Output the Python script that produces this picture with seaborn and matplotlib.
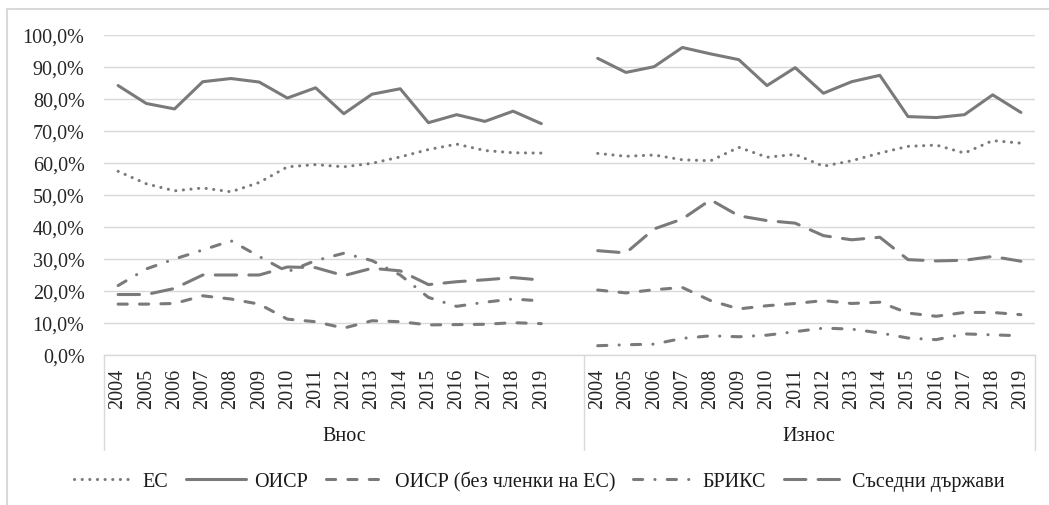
import pandas as pd
import matplotlib.pyplot as plt
import seaborn as sns
from matplotlib.lines import Line2D
from matplotlib.ticker import FuncFormatter

# Data (share, %)
years = list(range(2004, 2020))
groups = ['Внос', 'Износ']
series = ['ЕС', 'ОИСР', 'ОИСР (без членки на ЕС)', 'БРИКС', 'Съседни държави']

eu_imp = [57.4, 53.5, 51.3, 52.2, 51.0, 53.9, 58.8, 59.5, 58.8, 59.9, 61.9, 64.2, 65.9, 63.9, 63.2, 63.1]
oecd_imp = [84.2, 78.6, 76.9, 85.4, 86.4, 85.3, 80.3, 83.5, 75.4, 81.5, 83.2, 72.6, 75.1, 73.0, 76.2, 72.3]
oecd_noeu_imp = [15.9, 15.9, 16.1, 18.5, 17.5, 15.9, 11.2, 10.4, 8.4, 10.7, 10.4, 9.4, 9.5, 9.6, 10.1, 9.8]
brics_imp = [21.7, 26.9, 30.0, 32.8, 35.7, 30.8, 26.0, 29.5, 31.8, 29.5, 25.0, 18.0, 15.2, 16.5, 17.5, 16.9]
neigh_imp = [18.9, 18.9, 20.8, 25.0, 25.0, 25.0, 27.5, 27.3, 24.8, 27.1, 26.3, 22.0, 22.9, 23.5, 24.2, 23.4]

eu_exp = [63.0, 62.1, 62.5, 61.0, 60.7, 64.9, 61.8, 62.7, 59.0, 60.7, 63.1, 65.2, 65.6, 63.1, 67.0, 66.2]
oecd_exp = [92.7, 88.3, 90.1, 96.1, 94.1, 92.3, 84.2, 89.8, 81.8, 85.4, 87.4, 74.5, 74.2, 75.1, 81.3, 75.8]
oecd_noeu_exp = [20.3, 19.4, 20.4, 21.1, 17.0, 14.4, 15.4, 16.1, 17.0, 16.1, 16.5, 13.1, 12.1, 13.3, 13.3, 12.6]
brics_exp = [2.9, 3.2, 3.4, 5.2, 6.0, 5.7, 6.2, 7.3, 8.4, 8.1, 6.9, 5.3, 4.8, 6.6, 6.3, 6.0]
neigh_exp = [32.6, 31.9, 39.4, 42.5, 48.5, 43.5, 42.0, 41.2, 37.3, 36.0, 36.8, 29.8, 29.4, 29.6, 30.8, 29.3]

imports = [eu_imp, oecd_imp, oecd_noeu_imp, brics_imp, neigh_imp]
exports = [eu_exp, oecd_exp, oecd_noeu_exp, brics_exp, neigh_exp]

# long table; one empty category slot between the two groups
rows = []
for g, block in enumerate([imports, exports]):
    for name, vals in zip(series, block):
        for i, (yr, v) in enumerate(zip(years, vals)):
            rows.append({'pos': i + g * 17, 'year': yr, 'value': v,
                         'series': name, 'group': groups[g]})
df = pd.DataFrame(rows)

sns.set_style('white')
plt.rcParams['font.family'] = ['Liberation Serif', 'DejaVu Serif']
plt.rcParams['lines.dash_capstyle'] = 'round'
plt.rcParams['text.color'] = '#1a1a1a'

line_col = '#7a7a7a'
grid_col = '#d9d9d9'
fs = 14.5

fig = plt.figure(figsize=(10.49, 5.06), dpi=100)
ax = fig.add_axes([104 / 1049, 1 - 356 / 506, 931 / 1049, 320 / 506])

dashes = {
    'ЕС': (0.05, 2.45),
    'ОИСР': '',
    'ОИСР (без членки на ЕС)': (3, 4),
    'БРИКС': (3, 4, 0.05, 4),
    'Съседни държави': (7, 4),
}
sns.lineplot(data=df, x='pos', y='value', hue='series', style='series',
             units='group', estimator=None, sort=False,
             hue_order=series, style_order=series,
             palette={s: line_col for s in series}, dashes=dashes,
             linewidth=2.2, ax=ax)

ax.set_xlim(-0.5, 32.5)
ax.set_ylim(0, 100)
ax.set_yticks(range(0, 101, 10))
ax.yaxis.set_major_formatter(FuncFormatter(lambda v, p: f'{v:.1f}%'.replace('.', ',')))
ax.grid(axis='y', color=grid_col, linewidth=1)
ax.set_axisbelow(True)

pos = [i for i in range(16)] + [i + 17 for i in range(16)]
ax.set_xticks(pos)
ax.set_xticklabels([str(y) for y in years] * 2, rotation=90)
ax.tick_params(axis='x', length=0, pad=9, labelsize=fs)
ax.tick_params(axis='y', length=0, pad=14, labelsize=fs)
ax.set(xlabel=None, ylabel=None)

for side in ['top', 'right', 'left']:
    ax.spines[side].set_visible(False)
ax.spines['bottom'].set_color(grid_col)
ax.spines['bottom'].set_linewidth(1)

# category group boxes below the axis
trans = ax.get_xaxis_transform()
for xd in [-0.5, 16.5, 32.5]:
    ax.plot([xd, xd], [0, -0.297], transform=trans, clip_on=False,
            color=grid_col, linewidth=1)
ax.text(8, -0.253, groups[0], transform=trans, ha='center', va='center', fontsize=fs)
ax.text(24.5, -0.253, groups[1], transform=trans, ha='center', va='center', fontsize=fs)

sns.move_legend(ax, 'center', bbox_to_anchor=(0.514, 0.047),
                bbox_transform=fig.transFigure, ncol=5, frameon=False,
                title=None, fontsize=fs, handlelength=3.0,
                handletextpad=0.4, columnspacing=0.9)

# chart area border (top and left edges visible)
fig.add_artist(Line2D([7 / 1049, 1], [1 - 10 / 506, 1 - 10 / 506],
                      transform=fig.transFigure, color=grid_col, linewidth=1.5))
fig.add_artist(Line2D([7 / 1049, 7 / 1049], [0, 1 - 10 / 506],
                      transform=fig.transFigure, color=grid_col, linewidth=1.5))

fig.savefig('out.png', dpi=100)
